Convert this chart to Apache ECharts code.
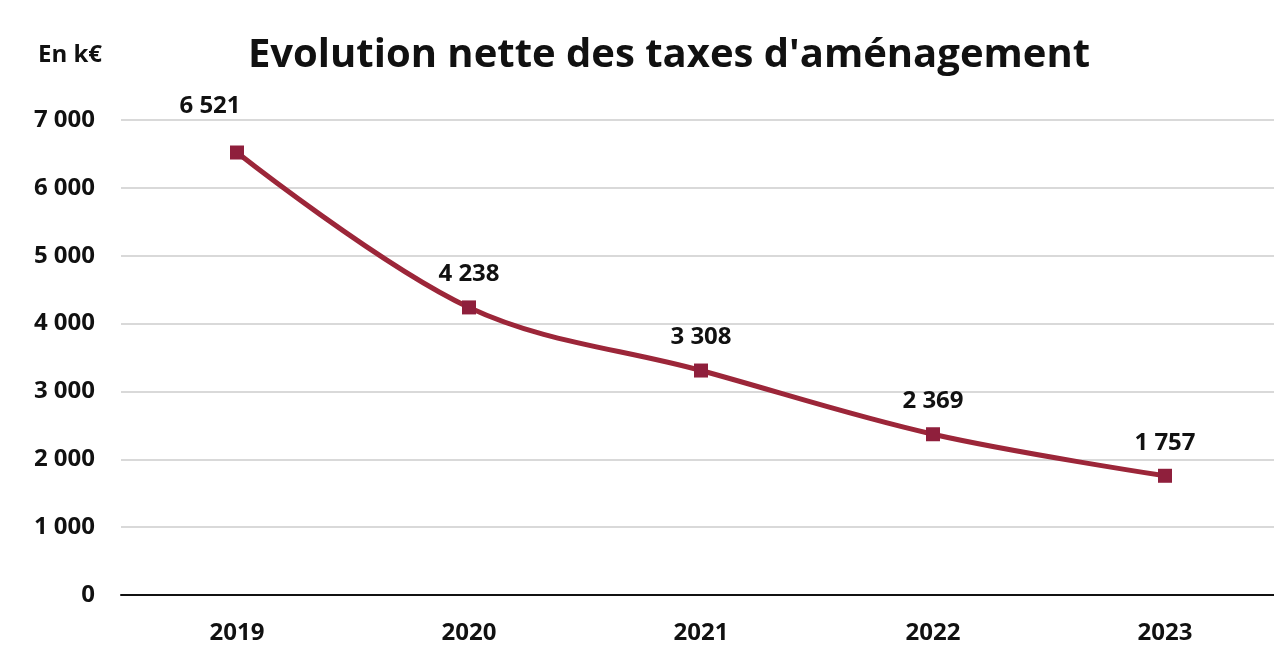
<!DOCTYPE html>
<html>
<head>
<meta charset="utf-8">
<script src="https://cdn.jsdelivr.net/npm/echarts@6/dist/echarts.min.js"></script>
<style>
  html, body { margin: 0; padding: 0; background: #ffffff; overflow: hidden; }
  #chart { width: 1282px; height: 645px; }
</style>
</head>
<body>
<div id="chart"></div>
<script>
// Taxes d'aménagement nettes, en k€
const years = ['2019', '2020', '2021', '2022', '2023'];
const netTaxes = [6521, 4238, 3308, 2369, 1757];
const yTicks = [0, 1000, 2000, 3000, 4000, 5000, 6000, 7000];

const FONT = '"Open Sans", "Liberation Sans", sans-serif';

// French thousands separator: "6 521"
function fmt(v) {
  return String(v).replace(/\B(?=(\d{3})+(?!\d))/g, ' ');
}

const chart = echarts.init(document.getElementById('chart'), null, { renderer: 'canvas' });

chart.setOption({
  backgroundColor: '#ffffff',
  animation: false,
  graphic: [{
    type: 'text',
    x: 669,
    y: 56,
    style: {
      text: "Evolution nette des taxes d'aménagement",
      font: 'bold 40px ' + FONT,
      fill: '#111111',
      align: 'center',
      verticalAlign: 'middle'
    }
  }, {
    type: 'text',
    x: 38,
    y: 55,
    style: { text: 'En k€', font: 'bold 24px ' + FONT, fill: '#111111', verticalAlign: 'middle' }
  }],
  grid: { left: 121, top: 120, width: 1160, height: 475 },
  xAxis: {
    type: 'category',
    data: years,
    boundaryGap: true,
    axisTick: { show: false },
    axisLine: { lineStyle: { color: '#111111', width: 2 } },
    axisLabel: { margin: 26, fontFamily: FONT, fontWeight: 'bold', fontSize: 24, color: '#111111' }
  },
  yAxis: {
    type: 'value',
    min: yTicks[0],
    max: yTicks[yTicks.length - 1],
    interval: yTicks[1] - yTicks[0],
    axisLine: { show: false },
    axisTick: { show: false },
    splitLine: { lineStyle: { color: '#d9d9d9', width: 2 } },
    axisLabel: { margin: 26, formatter: fmt, fontFamily: FONT, fontWeight: 'bold', fontSize: 24, color: '#111111' }
  },
  series: [{
    type: 'line',
    data: netTaxes.map((v, i) => i === 0
      ? { value: v, label: { offset: [-27, -13] } }
      : v),
    smooth: 0.35,
    symbol: 'rect',
    symbolSize: 14,
    lineStyle: { color: '#9c2639', width: 5 },
    itemStyle: { color: '#8f1f3c' },
    label: {
      show: true,
      position: 'top',
      distance: 14,
      formatter: p => fmt(p.value),
      fontFamily: FONT,
      fontWeight: 'bold',
      fontSize: 24,
      color: '#111111'
    }
  }]
});
</script>
</body>
</html>
